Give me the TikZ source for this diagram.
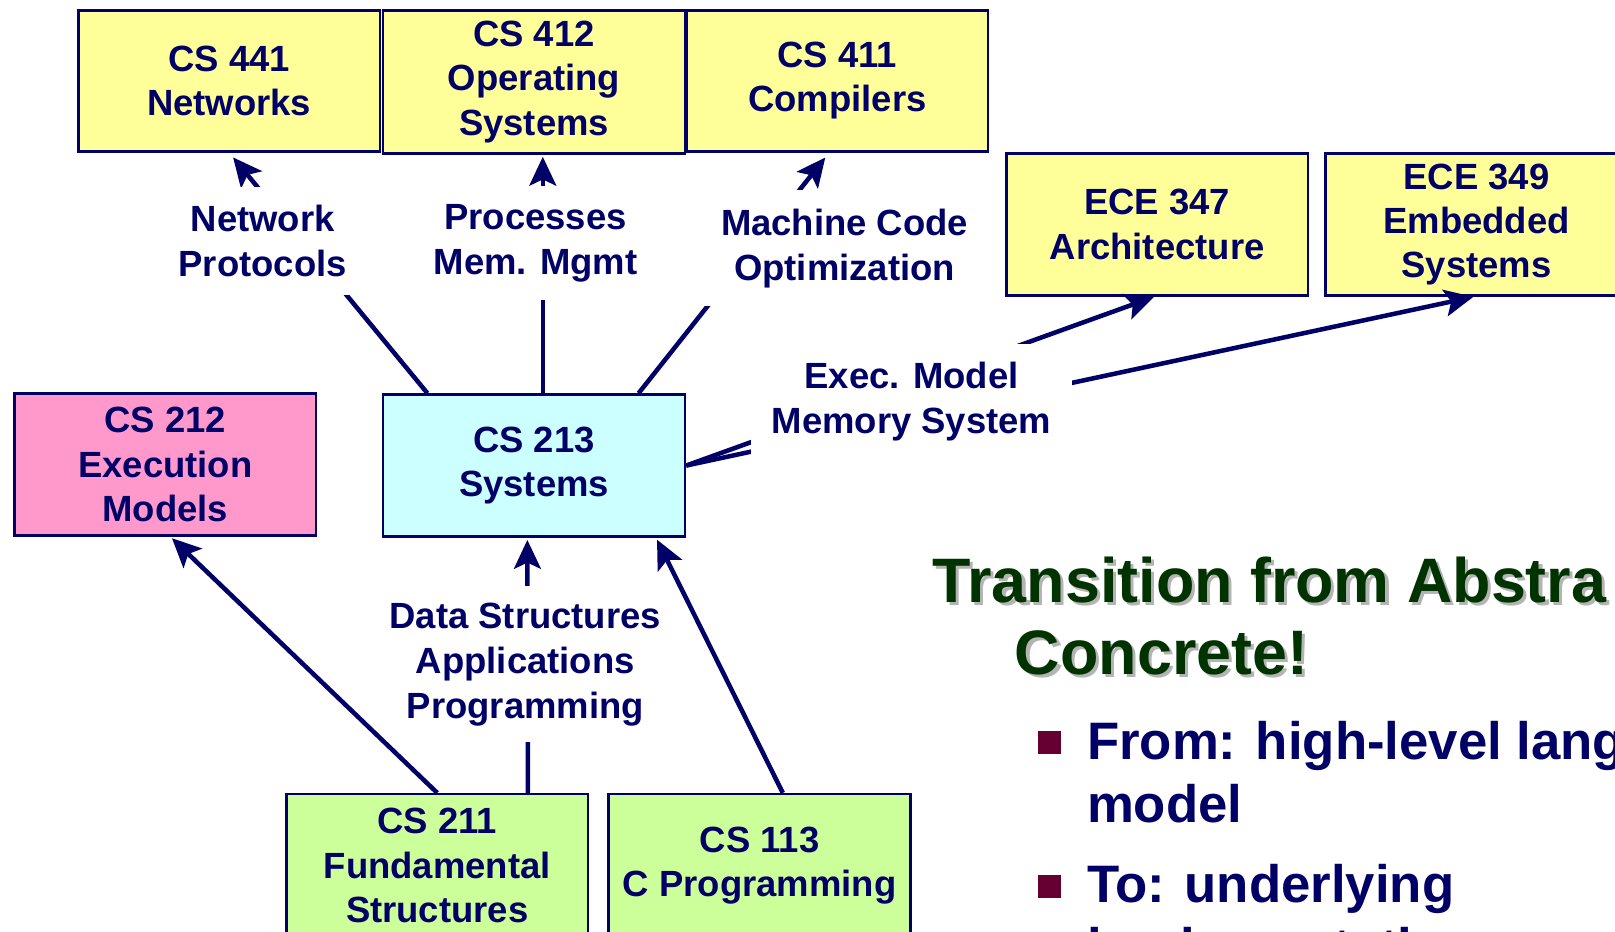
\documentclass[tikz,border=0pt]{standalone}
\usepackage{fontspec}
\setmainfont{Liberation Sans}
\usetikzlibrary{arrows.meta,calc}
\definecolor{navy}{HTML}{000066}
\definecolor{boxyellow}{HTML}{FFFF99}
\definecolor{boxcyan}{HTML}{CCFFFF}
\definecolor{boxpink}{HTML}{FF99CC}
\definecolor{boxgreen}{HTML}{CCFF99}
\definecolor{titlegreen}{HTML}{003300}
\definecolor{titleshadow}{HTML}{B4B4B4}
\definecolor{bulletred}{HTML}{660033}
\begin{document}
\begin{tikzpicture}[x=0.5pt,y=-0.5pt,
  box/.style={draw=navy, line width=1.2pt, minimum width=146.5pt, minimum height=68.5pt,
    inner sep=0pt, align=center, text=navy, font=\bfseries\fontsize{17.7}{21.5}\selectfont},
  lbl/.style={fill=white, inner sep=9pt, align=center, text=navy,
    font=\bfseries\fontsize{17.7}{21.8}\selectfont},
  conn/.style={draw=navy, line width=2.2pt, -{Stealth[length=14pt,width=13pt,inset=3pt]}},
  titletext/.style={anchor=base west, inner sep=0pt, font=\bfseries\fontsize{30.5}{35}\selectfont},
  bullettext/.style={anchor=base west, inner sep=0pt, text=navy, font=\bfseries\fontsize{25.6}{31}\selectfont},
  bulletmark/.style={fill=bulletred, minimum size=11pt, inner sep=0pt},
]
\useasboundingbox (0,0) rectangle (1568,904);
\clip (0,0) rectangle (1568,904);

% boxes
\node[box, fill=boxyellow] (cs441) at (222.5,78.5) {CS 441\\Networks};
\node[box, fill=boxyellow, minimum height=69.5pt] (cs412) at (518.5,79.5) {CS 412\\Operating\\Systems};
\node[box, fill=boxyellow, minimum width=146pt] (cs411) at (813,78.5) {CS 411\\Compilers};
\node[box, fill=boxyellow, minimum height=69pt] (ece347) at (1123.5,218) {ECE 347\\Architecture};
\node[box, fill=boxyellow, minimum height=69pt] (ece349) at (1433.5,218) {ECE 349\\Embedded\\Systems};
\node[box, fill=boxpink, minimum height=69pt] (cs212) at (160.5,451) {CS 212\\Execution\\Models};
\node[box, fill=boxcyan, minimum height=69pt] (cs213) at (518.5,452) {CS 213\\Systems};
\node[box, fill=boxgreen, minimum height=69.5pt] (cs211) at (424.5,840.5) {CS 211\\Fundamental\\Structures};
\node[box, fill=boxgreen, minimum height=69.5pt] (cs113) at (737.5,840.5) {CS 113\\C Programming};

% connectors
\draw[conn, shorten >=3pt] ([xshift=-51.75pt]cs213.north) -- (cs441.south);
\draw[conn, shorten >=1pt] ([xshift=4.25pt]cs213.north) -- ([xshift=4.25pt]cs412.south);
\draw[conn, shorten >=3pt] ([xshift=50.75pt]cs213.north) -- ([xshift=-4pt]cs411.south);
\draw[conn] (cs213.east) -- ([xshift=-1.5pt]ece347.south);
\draw[conn] (cs213.east) -- ([xshift=-1.5pt]ece349.south);
\draw[conn, shorten >=1pt] ([xshift=44pt]cs211.north) -- ([xshift=-3.25pt]cs213.south);
\draw[conn, shorten >=1pt] ([xshift=11.25pt]cs113.north) -- ([xshift=59.25pt]cs213.south);

% labels masking the connectors
\node[lbl] (netlbl) at (255,234) {Network\\Protocols};
\node[lbl] (proclbl) at (520,236) {Processes\\Mem. Mgmt};
\node[lbl] (maclbl) at (820,241) {Machine Code\\Optimization};
\node[lbl, inner xsep=10pt] (execlbl) at (885,390) {Exec. Model\\Memory System};
\node[lbl, inner xsep=2pt, inner ysep=8pt] (datalbl) at (510,645) {Data Structures\\Applications\\Programming};

% connector that passes beside the data label
\draw[conn, shorten >=1pt] (cs211.north) -- ([xshift=2.5pt]cs212.south);

% title with shadow
\node[titletext, text=titleshadow] (t1s) at (908,588) {Transition from Abstra};
\node[titletext, text=titlegreen] (t1) at (905,585) {Transition from Abstra};
\node[titletext, text=titleshadow] (t2s) at (988,658) {Concrete!};
\node[titletext, text=titlegreen] (t2) at (985,655) {Concrete!};

% bullets
\node[bulletmark] (b1) at (1019,721) {};
\node[bullettext] (b1a) at (1055,737) {From: high-level lang};
\node[bullettext] (b1b) at (1055,799) {model};
\node[bulletmark] (b2) at (1019,861) {};
\node[bullettext] (b2a) at (1055,876) {To: underlying};
\node[bullettext] (b2b) at (1055,937) {implementation};
\end{tikzpicture}
\end{document}
